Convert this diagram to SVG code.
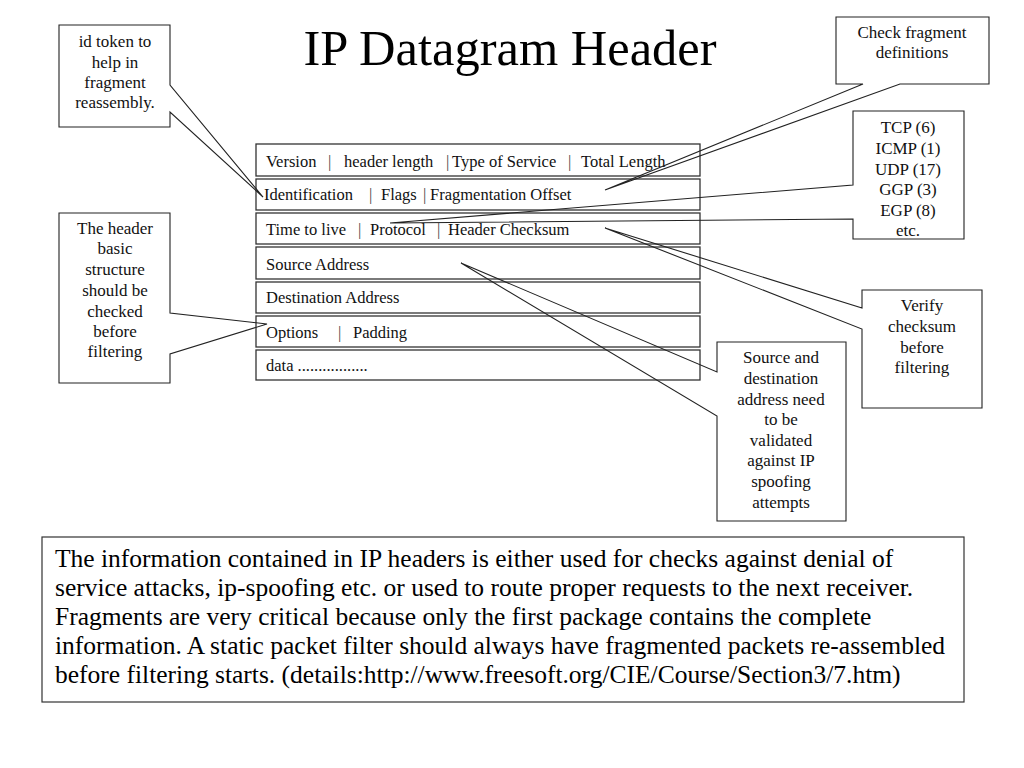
<svg xmlns="http://www.w3.org/2000/svg" width="1024" height="768" viewBox="0 0 1024 768">
<style>
.row{fill:#fff;stroke:#333;stroke-width:1.3}
.co{fill:none;stroke:#222;stroke-width:1.1;stroke-linejoin:miter}
.t{font-family:"Liberation Serif","Times New Roman",serif;font-size:16.5px;fill:#111}
.c{font-family:"Liberation Serif","Times New Roman",serif;font-size:17px;fill:#111;text-anchor:middle}
.sep{fill:#444}
.title{font-family:"Liberation Serif","Times New Roman",serif;font-size:50.5px;fill:#000;text-anchor:middle}
.body{font-family:"Liberation Serif","Times New Roman",serif;font-size:25.5px;fill:#000}
</style>
<rect width="1024" height="768" fill="#fff"/>
<text class="title" x="510" y="65">IP Datagram Header</text>

<g id="row-version"><rect class="row" x="256" y="144" width="444" height="32"/>
<text class="t" y="167"><tspan x="266">Version</tspan><tspan class="sep" x="328">|</tspan><tspan x="344">header length</tspan><tspan class="sep" x="446">|</tspan><tspan x="452">Type of Service</tspan><tspan class="sep" x="568">|</tspan><tspan x="581">Total Length</tspan></text></g>
<g id="row-identification"><rect class="row" x="256" y="179" width="444" height="31"/>
<text class="t" y="200"><tspan x="264">Identification</tspan><tspan class="sep" x="369">|</tspan><tspan x="381">Flags</tspan><tspan class="sep" x="423">|</tspan><tspan x="430">Fragmentation Offset</tspan></text></g>
<g id="row-ttl"><rect class="row" x="256" y="213" width="444" height="31"/>
<text class="t" y="235"><tspan x="266">Time to live</tspan><tspan class="sep" x="358">|</tspan><tspan x="370">Protocol</tspan><tspan class="sep" x="437">|</tspan><tspan x="448">Header Checksum</tspan></text></g>
<g id="row-source"><rect class="row" x="256" y="247" width="444" height="32"/>
<text class="t" x="266" y="270">Source Address</text></g>
<g id="row-destination"><rect class="row" x="256" y="282" width="444" height="31"/>
<text class="t" x="266" y="303">Destination Address</text></g>
<g id="row-options"><rect class="row" x="256" y="316" width="444" height="31"/>
<text class="t" y="338"><tspan x="266">Options</tspan><tspan class="sep" x="338">|</tspan><tspan x="353">Padding</tspan></text></g>
<g id="row-data"><rect class="row" x="256" y="350" width="444" height="30"/>
<text class="t" x="266" y="371">data .................</text></g>

<g id="connectors">
<path class="co" d="M59,25 H170 V85 L263,197 L170,112 V127 H59 Z"/>
<path class="co" d="M59,213 H170 V313 L267,324 L170,354 V383 H59 Z"/>
<path class="co" d="M836,17 H989 V84 H900 L605,190 L863,84 H836 Z"/>
<path class="co" d="M853,111 H964 V239 H853 V219 L390,223 L853,185 Z"/>
<path class="co" d="M862,290 H982 V408 H862 V329 L605,228 L862,308 Z"/>
<path class="co" d="M717,342 H846 V521 H717 V416 L461,263 L717,372 Z"/>
</g>

<g id="note-id">
<text class="c"><tspan x="115" y="47">id token to</tspan><tspan x="115" y="68">help in</tspan><tspan x="115" y="88">fragment</tspan><tspan x="115" y="108">reassembly.</tspan></text></g>
<g id="note-structure">
<text class="c"><tspan x="115" y="234">The header</tspan><tspan x="115" y="254">basic</tspan><tspan x="115" y="275">structure</tspan><tspan x="115" y="296">should be</tspan><tspan x="115" y="317">checked</tspan><tspan x="115" y="337">before</tspan><tspan x="115" y="357">filtering</tspan></text></g>
<g id="note-fragment">
<text class="c"><tspan x="912" y="38">Check fragment</tspan><tspan x="912" y="58">definitions</tspan></text></g>
<g id="note-protocol">
<text class="c"><tspan x="908" y="133">TCP (6)</tspan><tspan x="908" y="154">ICMP (1)</tspan><tspan x="908" y="175">UDP (17)</tspan><tspan x="908" y="195">GGP (3)</tspan><tspan x="908" y="216">EGP (8)</tspan><tspan x="908" y="236">etc.</tspan></text></g>
<g id="note-checksum">
<text class="c"><tspan x="922" y="311">Verify</tspan><tspan x="922" y="332">checksum</tspan><tspan x="922" y="353">before</tspan><tspan x="922" y="373">filtering</tspan></text></g>
<g id="note-address">
<text class="c"><tspan x="781" y="363">Source and</tspan><tspan x="781" y="384">destination</tspan><tspan x="781" y="405">address need</tspan><tspan x="781" y="425">to be</tspan><tspan x="781" y="446">validated</tspan><tspan x="781" y="466">against IP</tspan><tspan x="781" y="487">spoofing</tspan><tspan x="781" y="508">attempts</tspan></text></g>

<g id="summary">
<rect x="42" y="537" width="922" height="165" fill="#fff" stroke="#333" stroke-width="1.2"/>
<text class="body"><tspan x="55" y="567">The information contained in IP headers is either used for checks against denial of</tspan><tspan x="55" y="596">service attacks, ip-spoofing etc. or used to route proper requests to the next receiver.</tspan><tspan x="55" y="625">Fragments are very critical because only the first package contains the complete</tspan><tspan x="55" y="654">information. A static packet filter should always have fragmented packets re-assembled</tspan><tspan x="55" y="683">before filtering starts. (details:http://www.freesoft.org/CIE/Course/Section3/7.htm)</tspan></text>
</g>
</svg>
